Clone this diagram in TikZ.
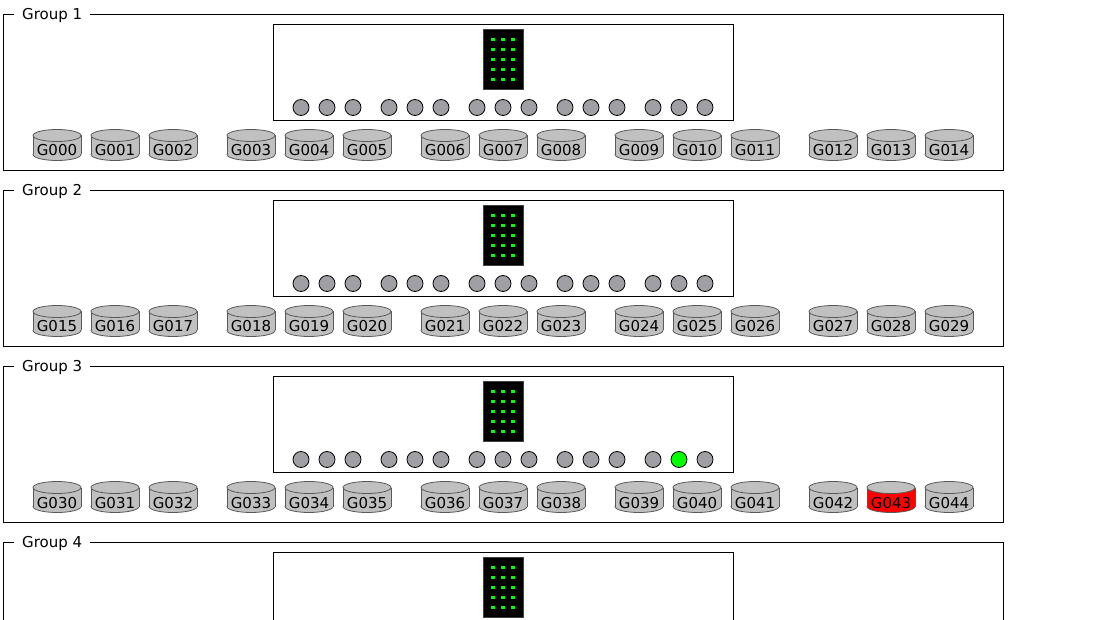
\documentclass[tikz,border=0pt]{standalone}
\usepackage{fontspec}
\setmainfont{DejaVu Sans}
\definecolor{diskgray}{HTML}{C0C0C0}
\definecolor{portgray}{HTML}{A0A0A4}
\definecolor{ledgreen}{HTML}{00FF00}
\begin{document}
\begin{tikzpicture}[
    x=1pt, y=-1pt,
    every node/.style={font=\fontsize{15}{18}\selectfont},
    group/.style={draw, line width=1pt,
      minimum width=1000pt, minimum height=156pt, inner sep=0pt},
    grouptitle/.style={fill=white, inner xsep=8pt, inner ysep=1pt, anchor=base west},
    rack/.style={draw, line width=1pt,
      minimum width=460pt, minimum height=96pt, inner sep=0pt},
    display/.style={draw=black!75, fill=black,
      minimum width=40pt, minimum height=60pt, inner sep=0pt},
    led/.style={fill=ledgreen, minimum size=3.5pt, inner sep=0pt},
    port/.style={circle, draw, line width=0.8pt, minimum size=16pt, inner sep=0pt},
    disk/.style={draw=black!65, line width=0.8pt},
    disklabel/.style={anchor=base, inner sep=0pt}
  ]
  \useasboundingbox (0,0) rectangle (1093,620);
  \clip (0,0) rectangle (1093,620);
  \foreach \g in {0,...,3} {
    \pgfmathsetmacro{\gtop}{\g*176+14.5}
    \pgfmathtruncatemacro{\num}{\g+1}
    % frame, title and rack
    \node[group] (grp\g) at (503,\gtop+78) {};
    \node[grouptitle] (title\g) at (14,\gtop+5) {Group \num};
    \node[rack] (rack\g) at (503,\gtop+58) {};
    \node[display] (disp\g) at (503,\gtop+45) {};
    \foreach \r in {0,...,4}
      \foreach \c in {0,...,2}
        \node[led] (led\g\r\c) at (493+\c*10,\gtop+25+\r*10) {};
    % ports and disks (group 4 runs off the page)
    \ifnum\g<3
    \foreach \k in {0,...,14} {
      \pgfmathtruncatemacro{\b}{int(\k/3)}
      \pgfmathtruncatemacro{\j}{mod(\k,3)}
      \pgfmathtruncatemacro{\n}{\g*15+\k}
      \ifnum\n=43 \def\pfill{ledgreen}\def\dfill{red}%
      \else \def\pfill{portgray}\def\dfill{diskgray}\fi
      \node[port, fill=\pfill] (port\n) at (301+\b*88+\j*26,\gtop+93) {};
      \pgfmathsetmacro{\dx}{57+\b*194+\j*58}
      \filldraw[disk, fill=\dfill] (\dx,\gtop+140) ellipse [x radius=24, y radius=6];
      \fill[\dfill] (\dx-24,\gtop+121) rectangle (\dx+24,\gtop+140);
      \draw[disk] (\dx-24,\gtop+121) -- (\dx-24,\gtop+140)
        (\dx+24,\gtop+121) -- (\dx+24,\gtop+140);
      \filldraw[disk, fill=diskgray] (\dx,\gtop+121) ellipse [x radius=24, y radius=6];
      \node[disklabel] (disk\n) at (\dx,\gtop+141.5) {G0\ifnum\n<10 0\fi\n};
    }
    \fi
  }
\end{tikzpicture}
\end{document}
